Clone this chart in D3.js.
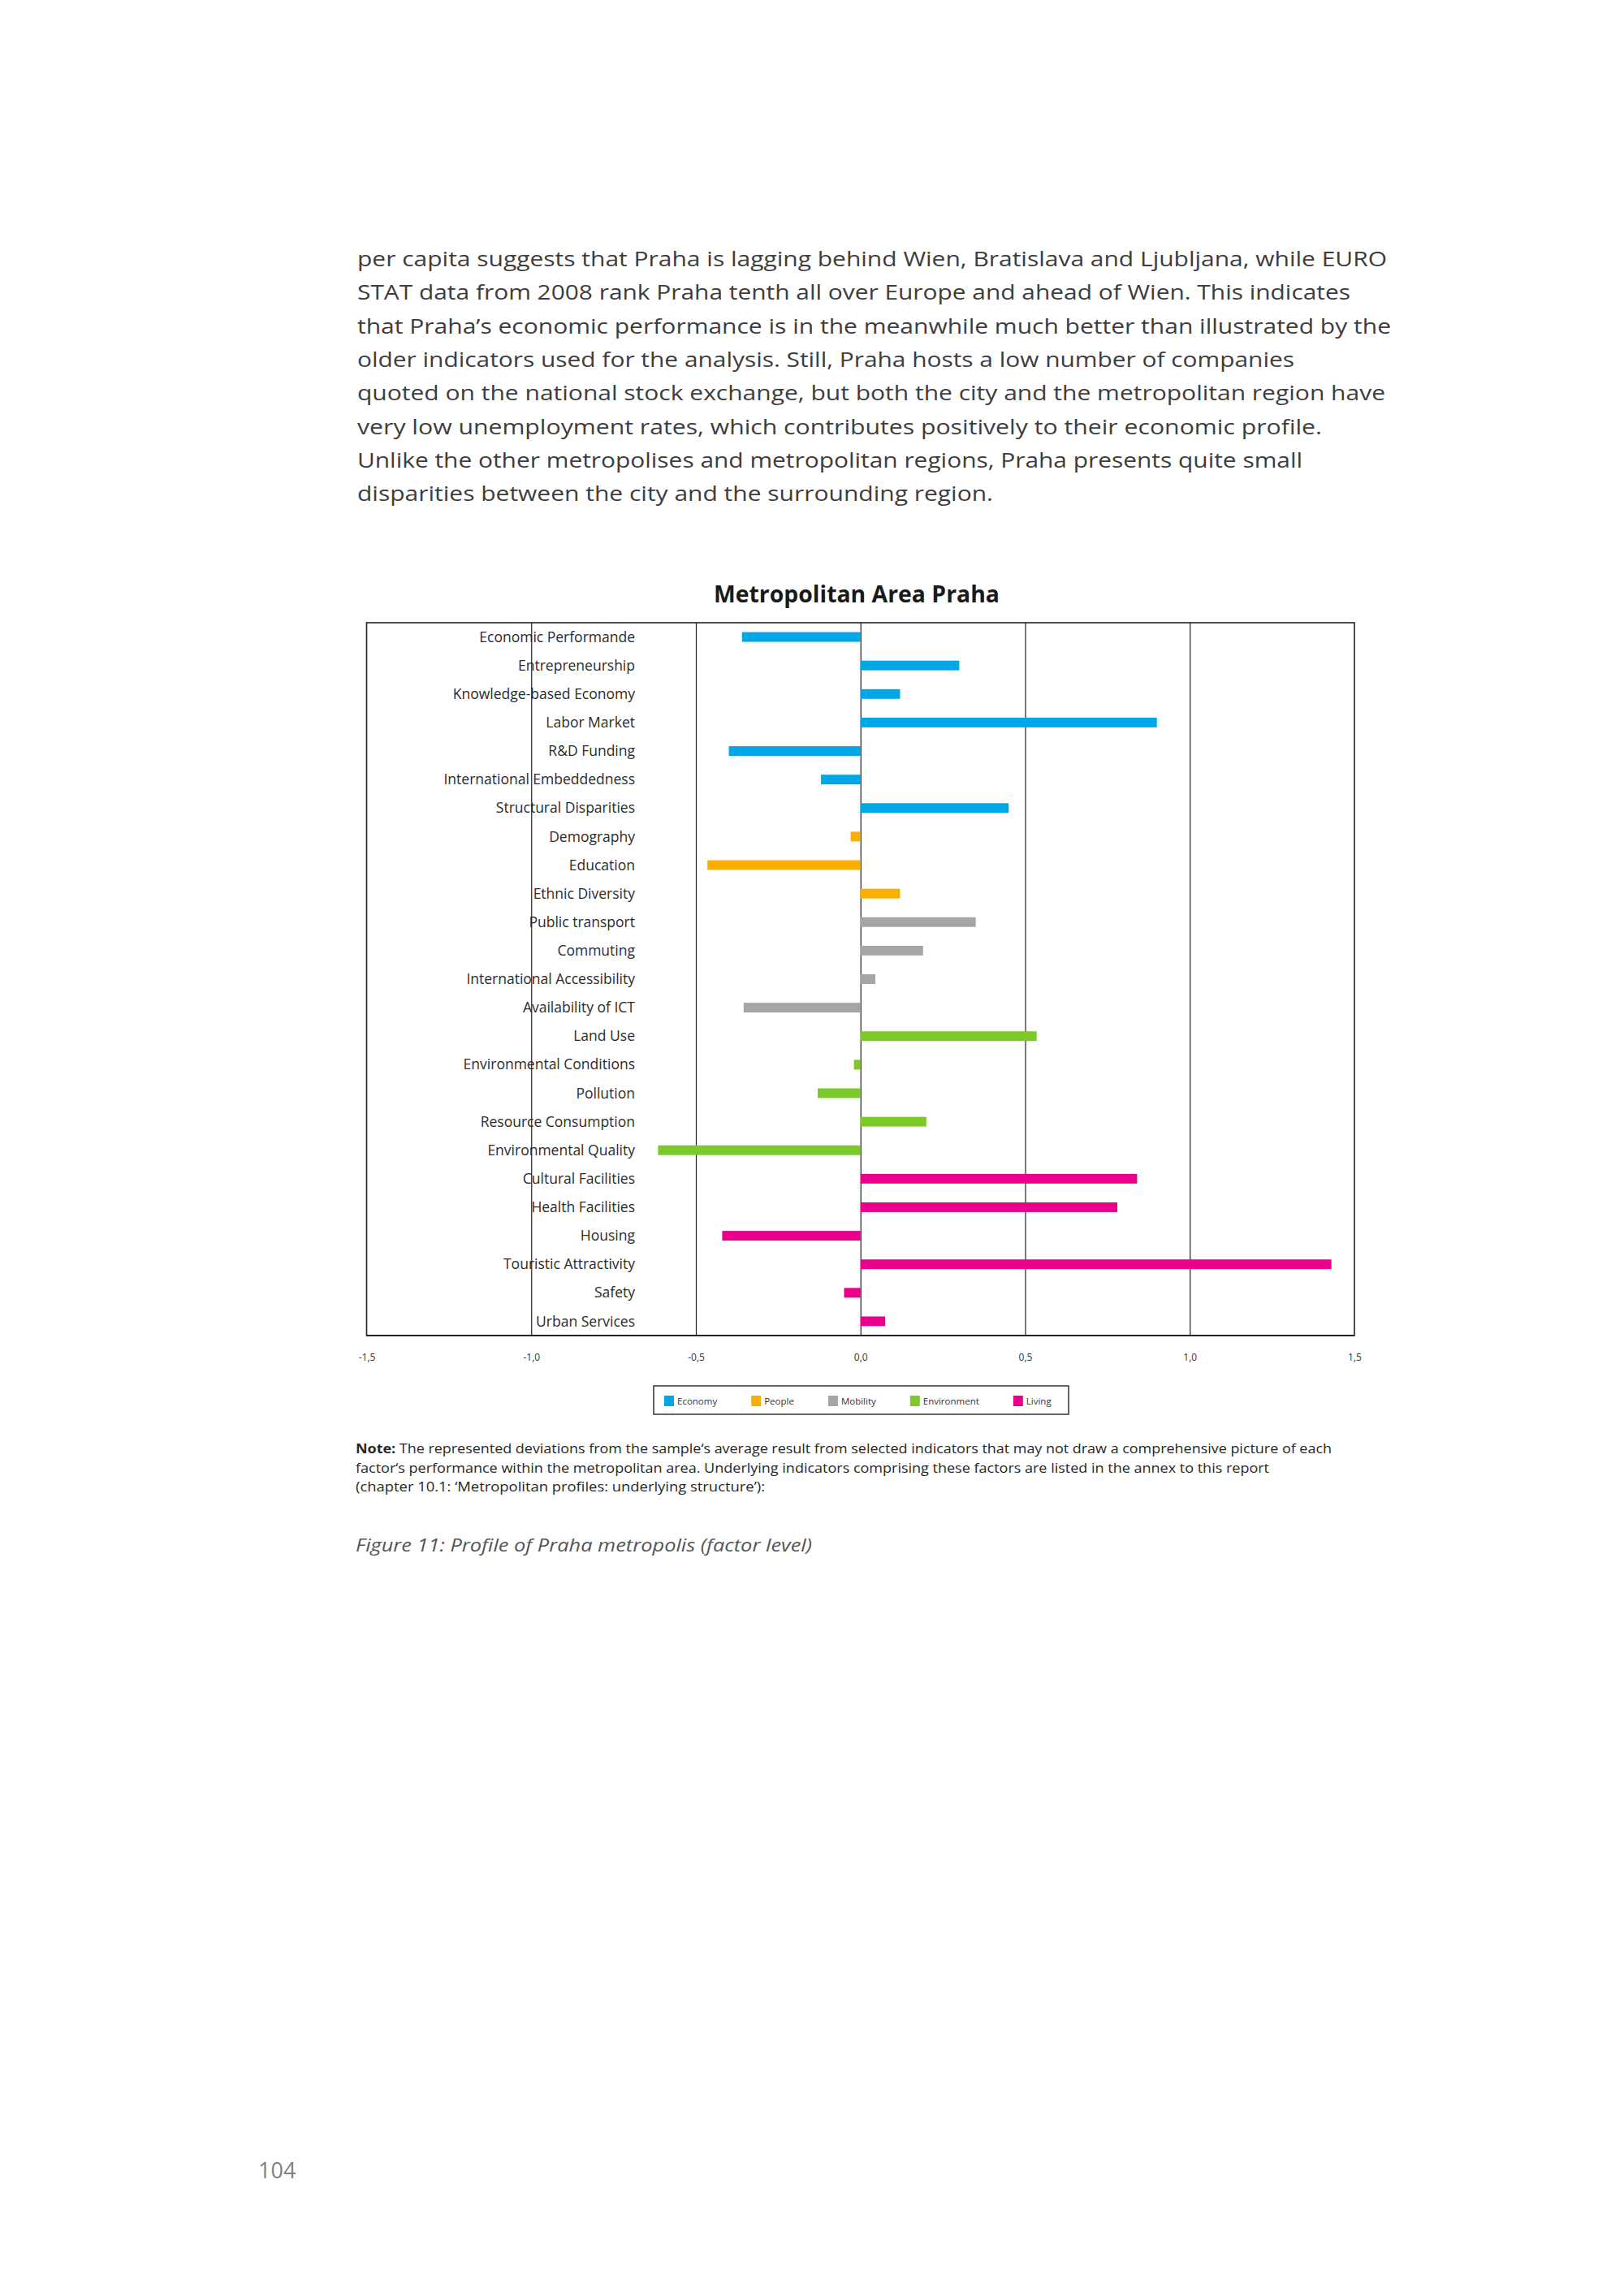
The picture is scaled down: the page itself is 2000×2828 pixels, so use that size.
<!DOCTYPE html>
<html>
<head>
<meta charset="utf-8">
<script src="https://cdn.jsdelivr.net/npm/d3@7"></script>
<style>
  html, body { margin: 0; padding: 0; background: #fff; }
  svg { display: block; }
</style>
</head>
<body>
<svg id="page" width="2000" height="2828"></svg>
<script>
// factor names, top to bottom
const categories = [
  "Economic Performande", "Entrepreneurship", "Knowledge-based Economy", "Labor Market",
  "R&D Funding", "International Embeddedness", "Structural Disparities",
  "Demography", "Education", "Ethnic Diversity",
  "Public transport", "Commuting", "International Accessibility", "Availability of ICT",
  "Land Use", "Environmental Conditions", "Pollution", "Resource Consumption", "Environmental Quality",
  "Cultural Facilities", "Health Facilities", "Housing", "Touristic Attractivity", "Safety", "Urban Services"
];

// deviation from sample average
const values = [
  -0.36, 0.30, 0.12, 0.90, -0.40, -0.12, 0.45,
  -0.03, -0.465, 0.12,
  0.35, 0.19, 0.045, -0.355,
  0.535, -0.02, -0.13, 0.20, -0.615,
  0.84, 0.78, -0.42, 1.43, -0.05, 0.075
];

// which group each factor belongs to
const groupOf = [
  "Economy", "Economy", "Economy", "Economy", "Economy", "Economy", "Economy",
  "People", "People", "People",
  "Mobility", "Mobility", "Mobility", "Mobility",
  "Environment", "Environment", "Environment", "Environment", "Environment",
  "Living", "Living", "Living", "Living", "Living", "Living"
];

const groupNames = ["Economy", "People", "Mobility", "Environment", "Living"];
const groupColors = ["#00A7E7", "#F9AF00", "#A5A5A5", "#7DC92A", "#EA008A"];

const tickValues = [-1.5, -1.0, -0.5, 0, 0.5, 1.0, 1.5];
const gridValues = [-1.0, -0.5, 0, 0.5, 1.0];

const paragraph = [
  "per capita suggests that Praha is lagging behind Wien, Bratislava and Ljubljana, while EURO",
  "STAT data from 2008 rank Praha tenth all over Europe and ahead of Wien. This indicates",
  "that Praha\u2019s economic performance is in the meanwhile much better than illustrated by the",
  "older indicators used for the analysis. Still, Praha hosts a low number of companies",
  "quoted on the national stock exchange, but both the city and the metropolitan region have",
  "very low unemployment rates, which contributes positively to their economic profile.",
  "Unlike the other metropolises and metropolitan regions, Praha presents quite small",
  "disparities between the city and the surrounding region."
];
const paragraphWidths = [1268, 1223, 1273, 1154, 1266, 1188, 1164, 783];

const noteLines = [
  "The represented deviations from the sample\u2018s average result from selected indicators that may not draw a comprehensive picture of each",
  "factor\u2018s performance within the metropolitan area. Underlying indicators comprising these factors are listed in the annex to this report",
  "(chapter 10.1: \u2018Metropolitan profiles: underlying structure\u2019):"
];
const noteWidths = [1202, 1125, 504];

const svg = d3.select("#page");
svg.append("rect").attr("width", 2000).attr("height", 2828).attr("fill", "#fff");

const font = "'Open Sans', 'Noto Sans', sans-serif";

// body text above the chart
svg.append("g").selectAll("text")
  .data(paragraph)
  .join("text")
  .attr("x", 440)
  .attr("y", (d, i) => 328 + i * 41.3)
  .attr("font-family", font)
  .attr("font-size", 25.5)
  .attr("fill", "#3d3d3d")
  .attr("textLength", (d, i) => paragraphWidths[i])
  .attr("lengthAdjust", "spacingAndGlyphs")
  .text(d => d);

// chart frame
const plotLeft = 451.5, plotRight = 1668, plotTop = 767, plotBottom = 1645;

const x = d3.scaleLinear().domain([-1.5, 1.5]).range([plotLeft, plotRight]);
const y = d3.scaleBand().domain(categories).range([plotTop, plotBottom])
  .paddingInner(0.66).paddingOuter(0.33);
const color = d3.scaleOrdinal().domain(groupNames).range(groupColors);

svg.append("text")
  .attr("x", 1055)
  .attr("y", 742)
  .attr("text-anchor", "middle")
  .attr("font-family", font)
  .attr("font-weight", "bold")
  .attr("font-size", 29)
  .attr("fill", "#1a1a1a")
  .attr("textLength", 352)
  .attr("lengthAdjust", "spacingAndGlyphs")
  .text("Metropolitan Area Praha");

// category labels sit inside the plot, behind the grid lines
svg.append("g").selectAll("text")
  .data(categories)
  .join("text")
  .attr("x", 782)
  .attr("y", d => y(d) + y.bandwidth() / 2)
  .attr("dy", "0.35em")
  .attr("text-anchor", "end")
  .attr("font-family", font)
  .attr("font-size", 17.5)
  .attr("fill", "#2b2b2b")
  .text(d => d);

// vertical grid lines
const grid = svg.append("g")
  .attr("transform", `translate(0,${plotTop})`)
  .call(d3.axisBottom(x).tickValues(gridValues).tickSize(plotBottom - plotTop).tickFormat(""));
grid.select(".domain").remove();
grid.selectAll("line").attr("stroke", "#222").attr("stroke-width", 1.2);

// bars
svg.append("g").selectAll("rect")
  .data(categories)
  .join("rect")
  .attr("x", (d, i) => x(Math.min(0, values[i])))
  .attr("y", d => y(d))
  .attr("width", (d, i) => Math.abs(x(values[i]) - x(0)))
  .attr("height", y.bandwidth())
  .attr("fill", (d, i) => color(groupOf[i]));

svg.append("rect")
  .attr("x", plotLeft).attr("y", plotTop)
  .attr("width", plotRight - plotLeft).attr("height", plotBottom - plotTop)
  .attr("fill", "none").attr("stroke", "#222").attr("stroke-width", 1.6);
svg.append("line")
  .attr("x1", plotLeft).attr("x2", plotRight).attr("y1", plotBottom).attr("y2", plotBottom)
  .attr("stroke", "#222").attr("stroke-width", 2.2);

// x axis labels with decimal comma and a plain hyphen for the minus
const fmt = d3.format(".1f");
const comma = v => fmt(v).replace("\u2212", "-").replace(".", ",");
const xAxis = svg.append("g")
  .attr("transform", `translate(0,${plotBottom})`)
  .call(d3.axisBottom(x).tickValues(tickValues).tickSize(0).tickPadding(22).tickFormat(comma));
xAxis.select(".domain").remove();
xAxis.selectAll("text")
  .attr("font-family", font)
  .attr("font-size", 12)
  .attr("fill", "#333");

// legend
const legend = svg.append("g");
legend.append("rect")
  .attr("x", 805).attr("y", 1707).attr("width", 511).attr("height", 35)
  .attr("fill", "#fff").attr("stroke", "#333").attr("stroke-width", 1.5);
let lx = 818;
groupNames.forEach((name, i) => {
  legend.append("rect")
    .attr("x", lx).attr("y", 1719).attr("width", 12).attr("height", 13)
    .attr("fill", groupColors[i]);
  const t = legend.append("text")
    .attr("x", lx + 16).attr("y", 1729.5)
    .attr("font-family", font)
    .attr("font-size", 11.5)
    .attr("fill", "#333")
    .text(name);
  lx += 16 + t.node().getComputedTextLength() + 42;
});

// note under the chart
const note = svg.append("g");
noteLines.forEach((line, i) => {
  const t = note.append("text")
    .attr("x", 438)
    .attr("y", 1790 + i * 23.5)
    .attr("font-family", font)
    .attr("font-size", 16)
    .attr("fill", "#262626")
    .attr("textLength", noteWidths[i])
    .attr("lengthAdjust", "spacingAndGlyphs");
  if (i === 0) {
    t.append("tspan").attr("font-weight", "bold").text("Note:");
    t.append("tspan").text(" " + line);
  } else {
    t.text(line);
  }
});

// figure caption
svg.append("text")
  .attr("x", 438)
  .attr("y", 1911)
  .attr("font-family", font)
  .attr("font-style", "italic")
  .attr("font-size", 22.5)
  .attr("fill", "#555")
  .attr("textLength", 562)
  .attr("lengthAdjust", "spacingAndGlyphs")
  .text("Figure 11: Profile of Praha metropolis (factor level)");

// page number
svg.append("text")
  .attr("x", 318)
  .attr("y", 2683)
  .attr("font-family", font)
  .attr("font-size", 27)
  .attr("fill", "#7f7f7f")
  .text("104");
</script>
</body>
</html>
